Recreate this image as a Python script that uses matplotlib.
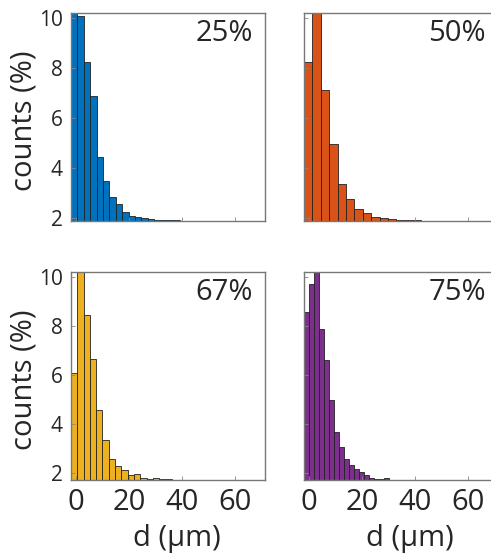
import numpy as np
import matplotlib
matplotlib.use('Agg')
from matplotlib import pyplot as plt

plt.rcParams['font.family'] = ['Open Sans', 'DejaVu Sans']

# histogram data: bin width (um) and counts (%) per panel
labels = ['25%', '50%', '67%', '75%']
colors = ['#0072BD', '#D95319', '#EDB120', '#7E2F8E']
bin_widths = [2.42, 3.17, 2.38, 1.89]
x_start = -2.0

counts_25 = [10.3, 10.09, 8.25, 6.89, 4.43, 3.49, 2.85, 2.56, 2.23, 2.08, 2.03,
             1.99, 1.96, 1.94, 1.93, 1.92, 1.91, 1.90]
counts_50 = [8.23, 10.3, 7.12, 4.96, 3.35, 2.76, 2.36, 2.21, 2.04, 2.00, 1.96,
             1.93, 1.92, 1.91, 1.90]
counts_67 = [6.07, 10.3, 8.45, 6.64, 4.57, 3.37, 2.58, 2.29, 2.12, 1.92, 1.95,
             1.82, 1.78, 1.80, 1.76, 1.75, 1.74, 1.73]
counts_75 = [8.58, 9.71, 10.3, 7.87, 6.61, 5.00, 3.69, 3.05, 2.56, 2.33, 2.16,
             2.03, 1.92, 1.82, 1.78, 1.78, 1.82, 1.74, 1.73, 1.73]
all_counts = [counts_25, counts_50, counts_67, counts_75]

y_ticks = [2, 4, 6, 8, 10]
x_ticks = [0, 20, 40, 60]
y_limits = [(1.88, 10.2), (1.88, 10.2), (1.72, 10.2), (1.72, 10.2)]

fig = plt.figure(figsize=(4.91, 5.59), dpi=100)

W, H = 491.0, 559.0
# panel boxes in pixels: left, top, right, bottom (right column runs off the edge)
boxes = [(71, 13, 265, 221), (304, 13, 501, 221),
         (71, 272, 265, 480), (304, 272, 501, 480)]

for i in range(4):
  l, t, r, b = boxes[i]
  ax = fig.add_axes([l / W, 1 - b / H, (r - l) / W, (b - t) / H])
  w = bin_widths[i]
  c = np.array(all_counts[i])
  x = x_start + w * np.arange(len(c))
  ax.bar(x, c, width=w, align='edge', color=colors[i],
         edgecolor='#222222', linewidth=0.6)
  ax.set_xlim(-2, 71.3 + (r - l - 194) / 2.65)
  ax.set_ylim(*y_limits[i])
  ax.set_xticks(x_ticks)
  ax.set_yticks(y_ticks)
  ax.tick_params(direction='in', length=3, width=0.6, color='#888888',
                 labelcolor='#262626')
  ax.tick_params(axis='y', labelsize=15, pad=6)
  ax.tick_params(axis='x', labelsize=21, pad=6)
  for s in ax.spines.values():
    s.set_color('#777777')
    s.set_linewidth(1.0)
  ax.text((265 - 71 - 12) / (r - l), 0.9, labels[i], transform=ax.transAxes,
          ha='right', va='center', fontsize=21, color='#262626')
  if i in (1, 3):
    ax.set_yticklabels([])
  else:
    ax.set_ylabel('counts (%)', fontsize=21, color='#262626')
    ax.yaxis.set_label_coords(-0.17, 0.48)
  if i in (0, 1):
    ax.set_xticklabels([])
  else:
    ax.set_xlabel('d (\u03bcm)', fontsize=21, color='#262626')
    ax.xaxis.set_label_coords(0.545 * 194 / (r - l), -0.21)

fig.savefig('out.png', dpi=100)
